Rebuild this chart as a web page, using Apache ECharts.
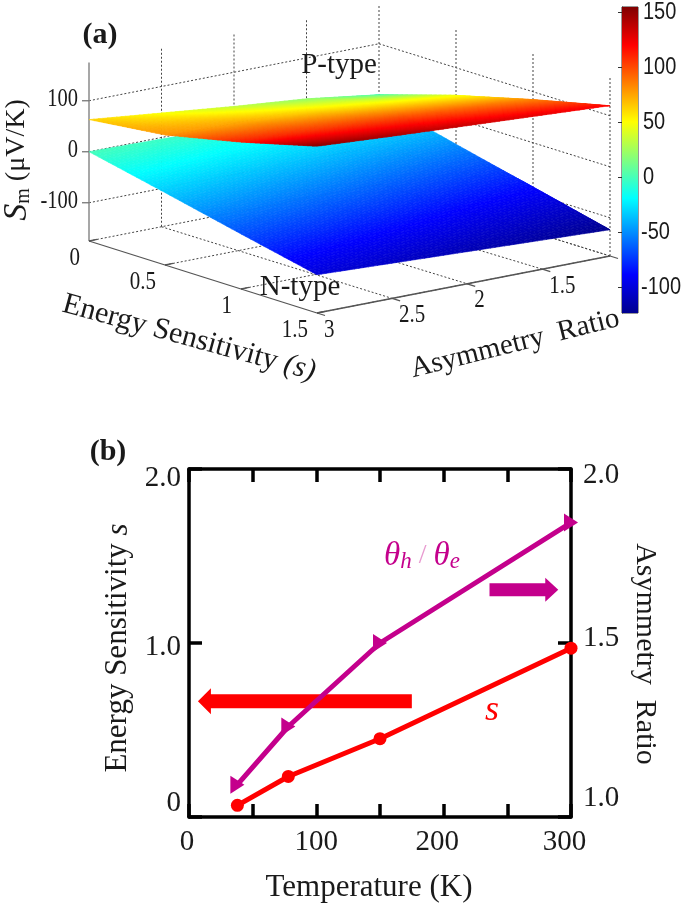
<!DOCTYPE html>
<html><head><meta charset="utf-8">
<style>html,body{margin:0;padding:0;background:#fff}#c{width:685px;height:904px}</style>
<script src="https://cdn.jsdelivr.net/npm/echarts@6/dist/echarts.min.js"></script>
</head><body><div id="c"></div>
<script>
// ---- panel (a) data
const sGrid = [0, 0.5, 1, 1.5];
const rGrid = [3, 2.5, 2, 1.5, 1];
const pTypeZ = [
  [63, 80, 113, 152],
  [48, 75, 107, 143],
  [33, 66, 101, 135],
  [20, 56, 93, 127],
  [0, 46, 84, 119]
];
const nTypeZ = [
  [0, -33, -67, -100],
  [-3, -37, -71, -106],
  [-6, -41, -76, -112],
  [-9, -46, -82, -118],
  [-12, -50, -87, -124]
];
const zTicks = [100, 0, -100];
const sTicks = [0, 0.5, 1, 1.5];
const rTicks = [3, 2.5, 2, 1.5];
const colorbarTicks = [-100, -50, 0, 50, 100, 150];
const jetStops = [[0,'#00008f'],[0.125,'#0000ff'],[0.375,'#00ffff'],[0.625,'#ffff00'],[0.875,'#ff0000'],[1,'#800000']];
// ---- panel (b) data
const temperature = [38, 78, 150, 300];
const sensitivity = [0.067, 0.233, 0.45, 0.97];
const asymmetry = [1.093, 1.26, 1.5, 1.846];
const leftArrow = [175, 0.665, 7, 0.665];
const rightArrow = [236, 1.306, 290, 1.306];

const SERIF = '"Liberation Serif","Times New Roman",serif';
const SANS = '"Liberation Sans",Arial,sans-serif';
const INK = '#1a1a1a', RED = '#ff0000', PURPLE = '#c4008c';
const CB_MIN = -123, CB_MAX = 155, Z_MIN = -175;

function hex(c){return [1,3,5].map(i=>parseInt(c.substr(i,2),16));}
function jet(v){
  const t = Math.max(0, Math.min(1, (v-CB_MIN)/(CB_MAX-CB_MIN)));
  for(let i=1;i<jetStops.length;i++){
    if(t<=jetStops[i][0]){
      const a=jetStops[i-1], b=jetStops[i], f=(t-a[0])/(b[0]-a[0]);
      const A=hex(a[1]),B=hex(b[1]);
      return 'rgb('+A.map((x,k)=>Math.round(x+(B[k]-x)*f)).join(',')+')';
    }
  }
  return jetStops[jetStops.length-1][1];
}
// box view: floor corners and vertical scale of the 3-D plot
function project(s,r,z){
  const u = Math.min(1,(3-r)/(2-0.033*s)), v = s/1.5;
  const x = (1-u)*((1-v)*89 + v*317) + u*((1-v)*379 + v*610);
  const y = (1-u)*((1-v)*241 + v*313) + u*((1-v)*184 + v*256);
  return [x, y-(z-Z_MIN)*0.51];
}
function surfaceValue(grid,si,ri){
  const i=Math.min(sGrid.length-2,Math.floor(si)), j=Math.min(rGrid.length-2,Math.floor(ri));
  const a=si-i,b=ri-j;
  return (1-b)*((1-a)*grid[j][i]+a*grid[j][i+1])+b*((1-a)*grid[j+1][i]+a*grid[j+1][i+1]);
}
function rAt(ri){const j=Math.min(rGrid.length-2,Math.floor(ri));return rGrid[j]+(rGrid[j+1]-rGrid[j])*(ri-j);}
function sAt(si){const i=Math.min(sGrid.length-2,Math.floor(si));return sGrid[i]+(sGrid[i+1]-sGrid[i])*(si-i);}

function surfaceSeries(grid){
  return {type:'custom',coordinateSystem:'cartesian2d',xAxisIndex:0,yAxisIndex:0,silent:true,clip:false,z:3,data:[0],
    renderItem(p,api){
      const N=16, children=[];
      const ns=(sGrid.length-1)*N, nr=(rGrid.length-1)*N;
      for(let a=0;a<ns;a++)for(let b=0;b<nr;b++){
        const pts=[[a,b],[a+1,b],[a+1,b+1],[a,b+1]].map(q=>{
          const si=q[0]/N,ri=q[1]/N;
          return api.coord(project(sAt(si),rAt(ri),surfaceValue(grid,si,ri)));
        });
        const col=jet(surfaceValue(grid,(a+.5)/N,(b+.5)/N));
        children.push({type:'polygon',shape:{points:pts},style:{fill:col,stroke:col,lineWidth:0.6}});
      }
      return {type:'group',children};
    }};
}
function seg(api,A,B,style){
  const a=api.coord(A),b=api.coord(B);
  return {type:'line',shape:{x1:a[0],y1:a[1],x2:b[0],y2:b[1]},style};
}
const boxSeries={type:'custom',coordinateSystem:'cartesian2d',xAxisIndex:0,yAxisIndex:0,silent:true,clip:false,z:2,data:[0],
  renderItem(p,api){
    const dot={stroke:'#444',lineWidth:1,lineDash:[2,2],fill:null};
    const solid={stroke:'#555',lineWidth:1.3,fill:null};
    const c=[]; const ZT=175;
    [-175,...zTicks].forEach(z=>{
      c.push(seg(api,project(0,3,z),project(0,1,z),dot));
      c.push(seg(api,project(0,1,z),project(1.5,1,z),dot));
    });
    [2.5,2,1.5,1].forEach(r=>{
      c.push(seg(api,project(0,r,Z_MIN),project(0,r,ZT),dot));
      c.push(seg(api,project(0,r,Z_MIN),project(1.5,r,Z_MIN),dot));
    });
    [0.5,1,1.5].forEach(s=>{
      c.push(seg(api,project(s,1,Z_MIN),project(s,1,ZT),dot));
      c.push(seg(api,project(s,3,Z_MIN),project(s,1,Z_MIN),dot));
    });
    c.push(seg(api,project(0,3,Z_MIN),project(0,3,ZT),{stroke:'#8a8a8a',lineWidth:1.5}));
    c.push(seg(api,project(0,3,Z_MIN),project(1.5,3,Z_MIN),solid));
    c.push(seg(api,project(1.5,3,Z_MIN),project(1.5,1,Z_MIN),solid));
    zTicks.forEach(z=>{const q=project(0,3,z);c.push(seg(api,q,[q[0]-7,q[1]],{stroke:'#777',lineWidth:1.3}));});
    sTicks.forEach(s=>{const q=project(s,3,Z_MIN);c.push(seg(api,q,[q[0]+8,q[1]-1.6],solid));});
    rTicks.concat([1]).forEach(r=>{const q=project(1.5,r,Z_MIN);c.push(seg(api,q,[q[0]+8,q[1]+2.5],solid));});
    return {type:'group',children:c};
  }};
function label(api,pos,text,o){
  o=o||{};
  const q=api.coord(pos);
  return {type:'text',x:q[0],y:q[1],rotation:(o.rot||0)*Math.PI/180,scaleX:o.sx||1,scaleY:o.sy||1,
    style:{text,fontFamily:o.family||SERIF,fontSize:o.fs||21,fontStyle:o.style||'normal',fontWeight:o.weight||'normal',
      fill:o.fill||INK,align:o.align||'center',verticalAlign:'middle',rich:o.rich}};
}
const labelSeries={type:'custom',coordinateSystem:'cartesian2d',xAxisIndex:0,yAxisIndex:0,silent:true,clip:false,z:6,data:[0],
  renderItem(p,api){
    const c=[];
    zTicks.forEach(z=>{const q=project(0,3,z);c.push(label(api,[78,q[1]-1],String(z),{align:'right',fs:20.5,sy:1.25}));});
    sTicks.forEach(s=>{const q=project(s,3,Z_MIN);c.push(label(api,[q[0]-9,q[1]+17],String(s),{align:'right',sy:1.2}));});
    rTicks.forEach(r=>{const q=project(1.5,r,Z_MIN);c.push(label(api,[q[0]+7,q[1]+17],String(r),{align:'left',sy:1.2}));});
    c.push(label(api,[339,65],'P-type',{fs:29}));
    c.push(label(api,[300,287],'N-type',{fs:29}));
    c.push(label(api,[100,35],'(a)',{fs:30,weight:'bold'}));
    c.push(label(api,[108,452],'(b)',{fs:30,weight:'bold'}));
    c.push(label(api,[17,160],'{i|S}{sub|m}{n| (\u03bcV/K)}',{rot:90,fs:26,rich:{
      i:{fontFamily:SERIF,fontStyle:'italic',fontSize:34,fill:INK},
      sub:{fontFamily:SERIF,fontSize:20,fill:INK,verticalAlign:'bottom',padding:[10,0,0,0]},
      n:{fontFamily:SERIF,fontSize:28,fill:INK}}}));
    c.push(label(api,[189,338],'{n|Energy Sensitivity }{i|(s)}',{rot:-15.3,rich:{
      n:{fontFamily:SERIF,fontSize:30,fill:INK},i:{fontFamily:SERIF,fontSize:30,fontStyle:'italic',fill:INK}}}));
    c.push(label(api,[515,344],'Asymmetry  Ratio',{rot:14,fs:29}));
    return {type:'group',children:c};
  }};
const colorbarLabels={type:'custom',coordinateSystem:'cartesian2d',xAxisIndex:3,yAxisIndex:3,silent:true,clip:false,z:6,data:[0],
  renderItem(p,api){
    return {type:'group',children:colorbarTicks.map(v=>{
      const q=api.coord([1,v]);
      const o=label(api,[1,v],String(v),{align:'left',family:SANS,fs:20,sy:1.2});
      o.x=q[0]+(v<0?3:5);
      return o;
    })};
  }};
function arrowSeries(vals,color,shaft,headH,headL){
  return {type:'custom',coordinateSystem:'cartesian2d',xAxisIndex:1,yAxisIndex:1,silent:true,clip:false,z:3,data:[vals],
    renderItem(p,api){
      const a=api.coord([api.value(0),api.value(1)]),b=api.coord([api.value(2),api.value(3)]);
      const d=b[0]>a[0]?1:-1, n=b[0]-d*headL;
      return {type:'polygon',shape:{points:[[a[0],a[1]-shaft/2],[n,a[1]-shaft/2],[n,a[1]-headH/2],[b[0],a[1]],[n,a[1]+headH/2],[n,a[1]+shaft/2],[a[0],a[1]+shaft/2]]},style:{fill:color}};
    }};
}
const colorbarSeries={type:'custom',coordinateSystem:'cartesian2d',xAxisIndex:3,yAxisIndex:3,silent:true,clip:false,z:1,data:[[0,CB_MIN,1,CB_MAX]],
  renderItem(p,api){
    const a=api.coord([api.value(0),api.value(1)]),b=api.coord([api.value(2),api.value(3)]);
    return {type:'rect',shape:{x:a[0],y:b[1],width:b[0]-a[0],height:a[1]-b[1]},
      style:{fill:{type:'linear',x:0,y:1,x2:0,y2:0,colorStops:jetStops.map(s=>({offset:s[0],color:s[1]}))}}};
  }};
const bAxisLine={show:true,onZero:false,lineStyle:{color:'#000',width:3.5}};
const bTick={show:true,inside:true,length:13,lineStyle:{color:'#000',width:3.5}};
const bLabel={fontFamily:SERIF,fontSize:29,color:INK};
function tok(padding){return {...bLabel,padding};}
const option={
  animation:false,backgroundColor:'#fff',
  grid:[
    {left:0,top:0,width:685,height:420,show:false,outerBoundsMode:'none'},
    {left:189,top:469,width:382,height:348,show:false,outerBoundsMode:'none'},
    {left:622,top:7,width:16,height:306,show:true,borderColor:'#333',borderWidth:1,backgroundColor:'transparent',outerBoundsMode:'none'}
  ],
  xAxis:[
    {gridIndex:0,type:'value',min:0,max:685,show:false},
    {gridIndex:1,type:'value',min:0,max:300,interval:50,position:'bottom',axisLine:bAxisLine,axisTick:bTick,splitLine:{show:false},
     axisLabel:{...bLabel,margin:11,formatter(v){return v%100?'':(v>=200?'{a|'+v+'}':(v===0?'{b|0}':'{c|'+v+'}'));},
       rich:{a:tok([0,13,0,0]),b:tok([0,4,0,0]),c:tok([0,0,0,0])}},
     name:'Temperature (K)',nameLocation:'middle',nameGap:55,nameTextStyle:{fontFamily:SERIF,fontSize:31,color:INK,padding:[0,22,0,0]}},
    {gridIndex:1,type:'value',min:0,max:300,interval:50,position:'top',axisLine:bAxisLine,axisTick:bTick,axisLabel:{show:false},splitLine:{show:false}},
    {gridIndex:2,type:'value',min:0,max:1,show:false}
  ],
  yAxis:[
    {gridIndex:0,type:'value',min:0,max:420,inverse:true,show:false},
    {gridIndex:1,type:'value',min:0,max:2,interval:1,position:'left',axisLine:bAxisLine,axisTick:bTick,splitLine:{show:false},
     axisLabel:{...bLabel,margin:8,formatter(v){return v===0?'{z|0}':(v===1?'{m|1.0}':'{t|2.0}');},
       rich:{z:tok([0,0,28,0]),m:tok([8,0,0,0]),t:tok([18,0,0,0])}},
     name:'{a|Energy Sensitivity }{b|s}',nameLocation:'middle',nameGap:47,nameTextStyle:{padding:[0,10,0,0],rich:{a:{fontFamily:SERIF,fontSize:31,color:INK},b:{fontFamily:SERIF,fontSize:31,fontStyle:'italic',color:INK}}}},
    {gridIndex:1,type:'value',min:1,max:2,interval:0.5,position:'right',axisLine:bAxisLine,axisTick:bTick,splitLine:{show:false},
     axisLabel:{...bLabel,margin:12,formatter(v){return v===1?'{z|1.0}':(v===1.5?'{m|1.5}':'{t|2.0}');},
       rich:{z:tok([0,0,38,0]),m:tok([0,0,10,0]),t:tok([12,0,0,0])}},
     name:'Asymmetry  Ratio',nameLocation:'middle',nameRotate:-90,nameGap:56,nameTextStyle:{fontFamily:SERIF,fontSize:30,color:INK,padding:[0,0,0,22]}},
    {gridIndex:2,type:'value',min:CB_MIN,max:CB_MAX,position:'right',splitLine:{show:false},
     axisLine:{show:true,lineStyle:{color:'#333'}},
     axisTick:{show:true,inside:true,length:4,customValues:colorbarTicks,lineStyle:{color:'#333'}},
     axisLabel:{show:false}}
  ],
  graphic:[
    {type:'text',z:20,x:422,y:556,style:{text:'{t|\u03b8}{s|h}{m| / }{t|\u03b8}{s|e}',verticalAlign:'middle',align:'center',
      rich:{t:{fontFamily:SERIF,fontStyle:'italic',fontSize:33,fill:PURPLE},s:{fontFamily:SERIF,fontStyle:'italic',fontSize:23,fill:PURPLE,verticalAlign:'bottom',padding:[12,0,0,0]},m:{fontFamily:SERIF,fontSize:28,fill:'#e89ad0'}}}},
    {type:'text',z:20,x:492,y:711,style:{text:'s',fontFamily:SERIF,fontStyle:'italic',fontSize:36,fill:RED,align:'center',verticalAlign:'middle'}}
  ],
  series:[
    boxSeries,surfaceSeries(nTypeZ),surfaceSeries(pTypeZ),labelSeries,colorbarSeries,colorbarLabels,
    arrowSeries(leftArrow,RED,14,26,13),
    arrowSeries(rightArrow,PURPLE,13,24,13),
    {type:'line',name:'s',xAxisIndex:1,yAxisIndex:1,data:temperature.map((t,i)=>[t,sensitivity[i]]),clip:false,z:5,
     lineStyle:{color:RED,width:5},itemStyle:{color:RED},symbol:'circle',symbolSize:13},
    {type:'line',name:'ratio',xAxisIndex:1,yAxisIndex:2,data:temperature.map((t,i)=>[t,asymmetry[i]]),clip:false,z:5,
     lineStyle:{color:PURPLE,width:5},itemStyle:{color:PURPLE},symbol:'triangle',symbolRotate:-90,symbolSize:[18,14]}
  ]
};
echarts.init(document.getElementById('c'),null,{renderer:'canvas'}).setOption(option);
</script></body></html>
